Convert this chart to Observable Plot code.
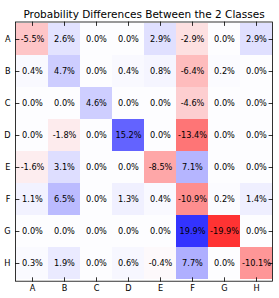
<!DOCTYPE html>
<html>
<head>
<meta charset="utf-8">
<script src="https://cdn.jsdelivr.net/npm/d3@7"></script>
<script src="https://cdn.jsdelivr.net/npm/@observablehq/plot@0.6"></script>
<style>
  html, body { margin: 0; padding: 0; background: white; }
  svg { display: block; }
</style>
</head>
<body>
<div id="chart"></div>
<script>
const title = "Probability Differences Between the 2 Classes";
const labels = ["A", "B", "C", "D", "E", "F", "G", "H"];
const rowA = [-5.5, 2.6, 0.0, 0.0, 2.9, -2.9, 0.0, 2.9];
const rowB = [0.4, 4.7, 0.0, 0.4, 0.8, -6.4, 0.2, 0.0];
const rowC = [0.0, 0.0, 4.6, 0.0, 0.0, -4.6, 0.0, 0.0];
const rowD = [0.0, -1.8, 0.0, 15.2, 0.0, -13.4, 0.0, 0.0];
const rowE = [-1.6, 3.1, 0.0, 0.0, -8.5, 7.1, 0.0, 0.0];
const rowF = [1.1, 6.5, 0.0, 1.3, 0.4, -10.9, 0.2, 1.4];
const rowG = [0.0, 0.0, 0.0, 0.0, 0.0, 19.9, -19.9, 0.0];
const rowH = [0.3, 1.9, 0.0, 0.6, -0.4, 7.7, 0.0, -10.1];
const rows = [rowA, rowB, rowC, rowD, rowE, rowF, rowG, rowH];

const cells = [];
rows.forEach((r, i) => r.forEach((v, j) => cells.push({row: labels[i], col: labels[j], v})));

const tickShape = {draw(context, l) { context.moveTo(0, 0); context.lineTo(0, -l); }};
const font = "DejaVu Sans, sans-serif";

const chart = Plot.plot({
  width: 279,
  height: 298,
  marginLeft: 15,
  marginRight: 7,
  marginTop: 21.5,
  marginBottom: 17.3,
  style: {fontFamily: font, background: "white", color: "black"},
  x: {domain: labels, padding: 0, axis: null},
  y: {domain: labels, padding: 0, axis: null},
  color: {type: "linear", domain: [-19.9, 0, 19.9], range: ["#ff3333", "#fdfdff", "#3333ff"], interpolate: "rgb", clamp: true},
  marks: [
    Plot.cell(cells, {x: "col", y: "row", fill: "v", inset: 0}),
    Plot.text(cells, {x: "col", y: "row", text: d => d.v.toFixed(1) + "%", fontSize: 8.2, fill: "black"}),
    Plot.frame({stroke: "black", strokeWidth: 0.8}),
    Plot.vector(labels, {x: d => d, frameAnchor: "bottom", length: 3.5, rotate: 0, anchor: "start", shape: tickShape, stroke: "black", strokeWidth: 0.8}),
    Plot.vector(labels, {x: d => d, frameAnchor: "top", length: 3.5, rotate: 180, anchor: "start", shape: tickShape, stroke: "black", strokeWidth: 0.8}),
    Plot.vector(labels, {y: d => d, frameAnchor: "left", length: 3.5, rotate: 90, anchor: "start", shape: tickShape, stroke: "black", strokeWidth: 0.8}),
    Plot.vector(labels, {y: d => d, frameAnchor: "right", length: 3.5, rotate: -90, anchor: "start", shape: tickShape, stroke: "black", strokeWidth: 0.8}),
    Plot.axisX({anchor: "bottom", tickSize: 0, tickPadding: 4, fontSize: 8.2, label: null}),
    Plot.axisY({anchor: "left", tickSize: 0, tickPadding: 5, fontSize: 8.2, label: null}),
    Plot.text([title], {frameAnchor: "top", dy: -11, text: d => d, fontSize: 10.5, fill: "black"})
  ]
});
document.getElementById("chart").appendChild(chart);
</script>
</body>
</html>
